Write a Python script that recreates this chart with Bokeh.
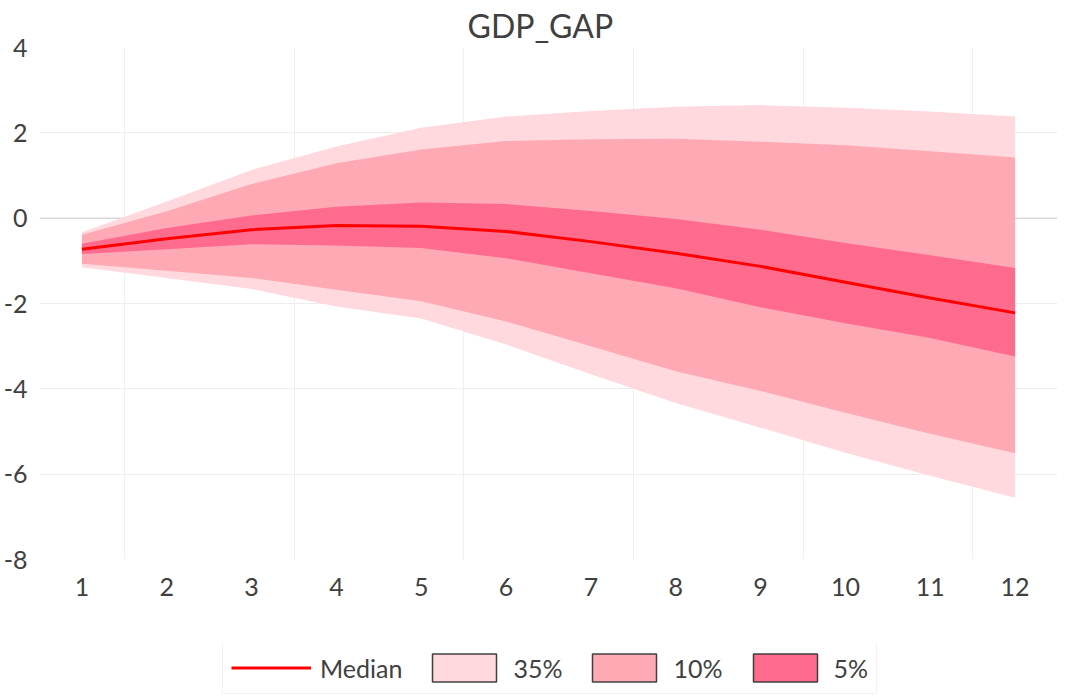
from bokeh.plotting import figure
from bokeh.models import (ColumnDataSource, Legend, LegendItem, FixedTicker,
                          Span, Range1d)
from bokeh.layouts import column
from bokeh.embed import file_html
from bokeh.resources import INLINE

# ---- data ----
horizon = [1, 2, 3, 4, 5, 6, 7, 8, 9, 10, 11, 12]
median = [-0.73, -0.48, -0.27, -0.17, -0.19, -0.31, -0.55, -0.82, -1.13, -1.50, -1.87, -2.22]
band5_hi = [-0.60, -0.23, 0.06, 0.27, 0.37, 0.33, 0.17, -0.02, -0.27, -0.58, -0.87, -1.17]
band5_lo = [-0.84, -0.73, -0.61, -0.64, -0.70, -0.94, -1.29, -1.64, -2.09, -2.46, -2.81, -3.24]
band10_hi = [-0.39, 0.16, 0.80, 1.29, 1.61, 1.81, 1.85, 1.86, 1.79, 1.71, 1.57, 1.42]
band10_lo = [-1.07, -1.23, -1.40, -1.68, -1.95, -2.42, -3.00, -3.59, -4.05, -4.56, -5.05, -5.51]
band35_hi = [-0.33, 0.39, 1.13, 1.68, 2.12, 2.38, 2.51, 2.61, 2.65, 2.59, 2.50, 2.38]
band35_lo = [-1.15, -1.40, -1.66, -2.07, -2.35, -2.96, -3.66, -4.33, -4.91, -5.50, -6.04, -6.55]
x_ticks = [1, 2, 3, 4, 5, 6, 7, 8, 9, 10, 11, 12]
y_ticks = [-8, -6, -4, -2, 0, 2, 4]
legend_labels = ["Median", "35%", "10%", "5%"]

C35 = "#FFD9DE"
C10 = "#FFA9B4"
C5 = "#FF6B8C"
CMED = "#FF0000"
TXT = "#404040"
FONT = "Lato"

src = ColumnDataSource(dict(x=horizon, med=median,
                            h5=band5_hi, l5=band5_lo,
                            h10=band10_hi, l10=band10_lo,
                            h35=band35_hi, l35=band35_lo))

p = figure(frame_width=1018, frame_height=512, output_backend="svg",
           toolbar_location=None,
           x_range=Range1d(0.5, 12.5), y_range=Range1d(-8, 4),
           title="GDP_GAP", min_border_left=0, min_border_right=0,
           min_border_top=0, min_border_bottom=84)
p.outline_line_color = None
p.background_fill_color = "white"
p.border_fill_color = "white"

p.title.align = "left"
p.title.offset = 428
p.title.text_font = FONT
p.title.text_font_size = "32px"
p.title.text_font_style = "normal"
p.title.text_color = TXT
p.title.standoff = 6

# grids
p.xgrid.ticker = FixedTicker(ticks=[1.5, 3.5, 5.5, 7.5, 9.5, 11.5])
p.xgrid.grid_line_color = "#F0F0F0"
p.xgrid.grid_line_width = 1
p.ygrid.ticker = FixedTicker(ticks=[-6, -4, -2, 2])
p.ygrid.grid_line_color = "#EDEDED"
p.ygrid.grid_line_width = 1
zero = Span(location=0, dimension="width", line_color="#D9D9D9", line_width=1.5,
            level="underlay")
p.add_layout(zero)

# axes
for ax in (p.xaxis[0], p.yaxis[0]):
    ax.axis_line_color = None
    ax.major_tick_line_color = None
    ax.minor_tick_line_color = None
    ax.major_label_text_font = FONT
    ax.major_label_text_font_size = "25px"
    ax.major_label_text_color = TXT
p.xaxis.ticker = FixedTicker(ticks=x_ticks)
p.yaxis.ticker = FixedTicker(ticks=y_ticks)
p.yaxis.major_label_overrides = {t: str(t) for t in y_ticks}
p.xaxis.major_label_standoff = 12
p.yaxis.major_label_standoff = 6

# bands
p.varea(x="x", y1="l35", y2="h35", source=src, fill_color=C35)
p.varea(x="x", y1="l10", y2="h10", source=src, fill_color=C10)
p.varea(x="x", y1="l5", y2="h5", source=src, fill_color=C5)
p.line(x="x", y="med", source=src, line_color=CMED, line_width=3)

# ---- legend strip (separate small figure below the chart) ----
lg = figure(width=1049, height=51, output_backend="svg", toolbar_location=None,
            x_range=Range1d(0, 1), y_range=Range1d(0, 1),
            x_axis_type=None, y_axis_type=None,
            min_border=0, min_border_left=0, min_border_right=0,
            min_border_top=0, min_border_bottom=0)
lg.outline_line_color = None
lg.grid.visible = False
lg.background_fill_color = "white"
lg.border_fill_color = "white"

nan = float("nan")
proxy_line = ColumnDataSource(dict(x=[nan], y=[nan]))
proxy = ColumnDataSource(dict(l=[nan], r=[nan], b=[nan], t=[nan]))
r_med = lg.line(x="x", y="y", source=proxy_line, line_color=CMED, line_width=3)
r35 = lg.quad(left="l", right="r", bottom="b", top="t", source=proxy,
              fill_color=C35, line_color="#404040", line_width=1.5)
r10 = lg.quad(left="l", right="r", bottom="b", top="t", source=proxy,
              fill_color=C10, line_color="#404040", line_width=1.5)
r5 = lg.quad(left="l", right="r", bottom="b", top="t", source=proxy,
             fill_color=C5, line_color="#404040", line_width=1.5)

legend = Legend(items=[LegendItem(label=legend_labels[0], renderers=[r_med]),
                       LegendItem(label=legend_labels[1], renderers=[r35]),
                       LegendItem(label=legend_labels[2], renderers=[r10]),
                       LegendItem(label=legend_labels[3], renderers=[r5])],
                orientation="horizontal", location=(183, 0))
legend.label_text_font = FONT
legend.label_text_font_size = "25px"
legend.label_text_color = TXT
legend.glyph_width = 80
legend.glyph_height = 35
legend.label_standoff = 9
legend.spacing = 22
legend.padding = 8
legend.margin = 0
legend.border_line_color = "#E6E6E6"
legend.border_line_width = 1
legend.background_fill_color = "white"
lg.add_layout(legend)

layout = column(p, lg, spacing=0)
open("out.html", "w").write(file_html(layout, INLINE))
